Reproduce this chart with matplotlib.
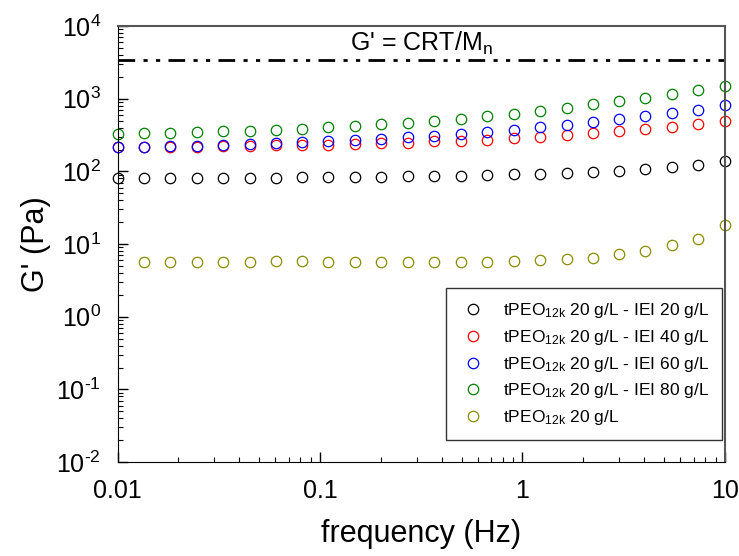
import matplotlib
matplotlib.use("Agg")
import matplotlib.pyplot as plt
from matplotlib.ticker import LogLocator, NullFormatter, FuncFormatter
import math

plt.rcParams['font.family'] = ['Liberation Sans', 'DejaVu Sans']
plt.rcParams['mathtext.default'] = 'regular'

# frequency (Hz), 24 points log spaced between 0.01 and 10
freq = [0.01, 0.0135, 0.0182, 0.0246, 0.0332, 0.0449, 0.0606, 0.0818,
        0.110, 0.149, 0.201, 0.272, 0.367, 0.495, 0.669, 0.903,
        1.22, 1.65, 2.22, 3.00, 4.05, 5.47, 7.39, 10.0]

g_iei20 = [82, 82, 82, 82, 82, 82, 82, 83, 84, 84, 85, 86, 86, 87, 89, 91,
           93, 96, 99, 102, 108, 115, 124, 140]
g_iei40 = [215, 215, 217, 219, 221, 224, 229, 233, 233, 238, 244, 248, 259, 264, 273, 285,
           297, 314, 334, 356, 379, 408, 449, 489]
g_iei60 = [219, 219, 221, 226, 231, 238, 246, 254, 262, 270, 282, 295, 310, 330, 352, 375,
           408, 439, 474, 521, 573, 636, 706, 811]
g_iei80 = [327, 334, 341, 348, 356, 363, 371, 387, 404, 421, 444, 468, 498, 531, 573, 622,
           677, 752, 837, 921, 1032, 1161, 1317, 1511]
# tPEO alone, first frequency missing
freq_peo = freq[1:]
g_peo = [5.73, 5.73, 5.73, 5.73, 5.73, 5.86, 5.86, 5.73, 5.73, 5.73, 5.73, 5.73, 5.73, 5.73, 5.86,
         5.98, 6.24, 6.50, 7.24, 8.11, 9.72, 11.9, 18.1]

g_theory = 3400  # G' = CRT/Mn

labels = [r"tPEO$_{12k}$ 20 g/L - IEI 20 g/L",
          r"tPEO$_{12k}$ 20 g/L - IEI 40 g/L",
          r"tPEO$_{12k}$ 20 g/L - IEI 60 g/L",
          r"tPEO$_{12k}$ 20 g/L - IEI 80 g/L",
          r"tPEO$_{12k}$ 20 g/L"]
colors = ['black', 'red', 'blue', 'green', '#8c8c00']


def pow_label(v, pos):
    e = int(round(math.log10(v)))
    s = str(e).replace('-', '\u2010')  # short hyphen like the original
    return '$10^{' + s + '}$'


fig = plt.figure(figsize=(7.39, 5.56), dpi=100)
ax = fig.add_axes([0.159, 0.169, 0.822, 0.784])

series = [(freq, g_iei20), (freq, g_iei40), (freq, g_iei60), (freq, g_iei80), (freq_peo, g_peo)]
for (x, y), lab, c in zip(series, labels, colors):
    ax.plot(x, y, 'o', mfc='none', mec=c, ms=7.5, mew=0.9, label=lab, clip_on=False)

ax.plot([freq[0], freq[-1]], [g_theory, g_theory], color='black', lw=2,
        ls=(0, (6, 3, 1.5, 3, 1.5, 3)))
ax.text(0.5, 0.96, r"G' = CRT/M$_n$", transform=ax.transAxes, ha='center', va='center',
        fontsize=18)

ax.set_xscale('log')
ax.set_yscale('log')
ax.set_xlim(0.01, 10)
ax.set_ylim(1e-2, 1e4)
ax.set_xticks([0.01, 0.1, 1, 10])
ax.set_xticklabels(['0.01', '0.1', '1', '10'])
ax.yaxis.set_major_locator(LogLocator(base=10, numticks=10))
ax.yaxis.set_major_formatter(FuncFormatter(pow_label))
ax.yaxis.set_minor_locator(LogLocator(base=10, subs=range(2, 10), numticks=20))
ax.xaxis.set_minor_locator(LogLocator(base=10, subs=range(2, 10), numticks=20))
ax.yaxis.set_minor_formatter(NullFormatter())
ax.xaxis.set_minor_formatter(NullFormatter())

ax.tick_params(which='both', direction='in', labelsize=18, top=False, right=False)
ax.tick_params(which='major', length=7, width=1, pad=12)
ax.tick_params(which='minor', length=3.5, width=0.8)

for s in ['top', 'right']:
    ax.spines[s].set_color('#555555')
    ax.spines[s].set_linewidth(1.5)

ax.set_xlabel('frequency (Hz)', fontsize=22, labelpad=12)
ax.set_ylabel("G' (Pa)", fontsize=22, labelpad=4)

leg = ax.legend(loc='lower right', bbox_to_anchor=(0.995, 0.05), fontsize=12.5,
                frameon=True, fancybox=False, edgecolor='black', borderpad=0.75,
                labelspacing=0.45, handlelength=1.6, handletextpad=0.9, borderaxespad=0)
leg.get_frame().set_linewidth(1)

fig.savefig('out.png', dpi=100)
